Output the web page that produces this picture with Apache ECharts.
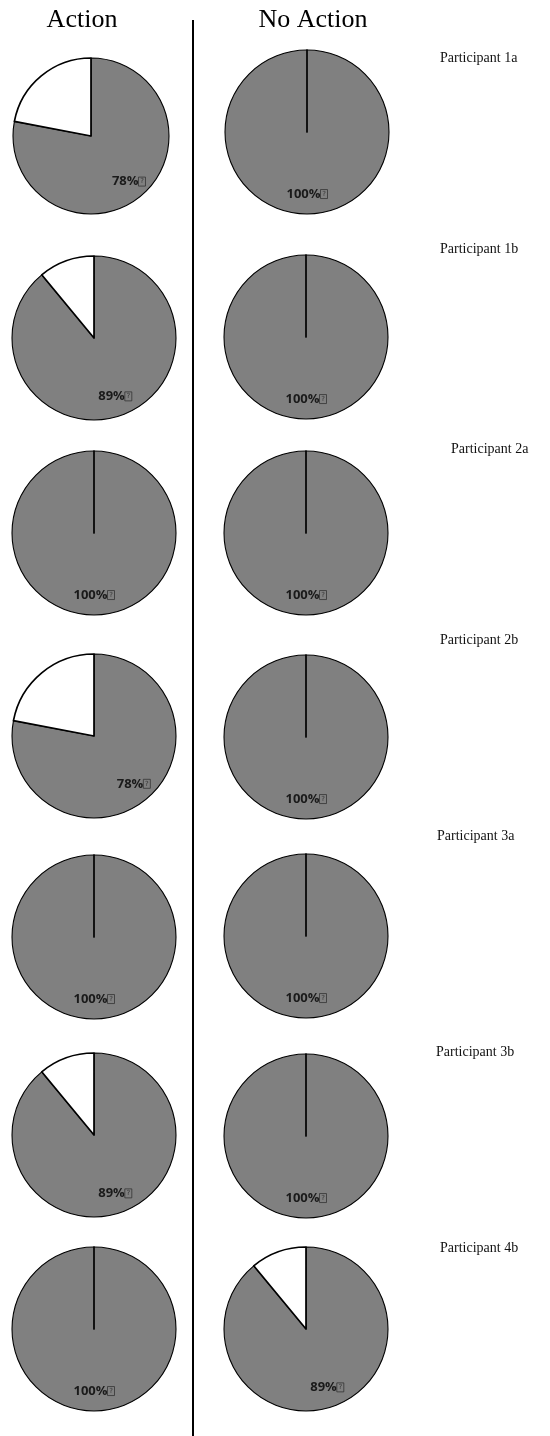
<!DOCTYPE html>
<html><head><meta charset="utf-8">
<script src="https://cdn.jsdelivr.net/npm/echarts@6/dist/echarts.min.js"></script>
<style>html,body{margin:0;padding:0;background:#fff}#c{width:550px;height:1436px}</style>
</head><body><div id="c"></div>
<script>
// ---- data ----
const participants = ['Participant 1a','Participant 1b','Participant 2a','Participant 2b','Participant 3a','Participant 3b','Participant 4b'];
const groups = ['Action', 'No Action'];
const actionPct    = [78, 89, 100, 78, 100, 89, 100];
const actionRest   = [22, 11, 0, 22, 0, 11, 0];
const noActionPct  = [100, 100, 100, 100, 100, 100, 89];
const noActionRest = [0, 0, 0, 0, 0, 0, 11];

// ---- layout (pixels) ----
const pieCenters = [
  [[91, 136], [307, 132]],
  [[94, 338], [306, 337]],
  [[94, 533], [306, 533]],
  [[94, 736], [306, 737]],
  [[94, 937], [306, 936]],
  [[94, 1135], [306, 1136]],
  [[94, 1329], [306, 1329]]
];
const pieRadii = [[78, 82], [82, 82], [82, 82], [82, 82], [82, 82], [82, 82], [82, 82]];
const titlePos = [[82, 20], [313, 20]];
const participantPos = [[440, 58], [440, 249], [451, 449], [440, 640], [437, 836], [436, 1052], [440, 1248]];

const GRAY = '#808080';
const series = [];
const values = [[actionPct, actionRest], [noActionPct, noActionRest]];
for (let r = 0; r < participants.length; r++) {
  for (let g = 0; g < 2; g++) {
    const pct = values[g][0][r], rest = values[g][1][r];
    const c = pieCenters[r][g], rad = pieRadii[r][g];
    series.push({
      type: 'pie', name: groups[g] + ' ' + participants[r],
      center: c, radius: rad, startAngle: 90, clockwise: true,
      silent: true, animation: false,
      label: { show: false }, labelLine: { show: false },
      itemStyle: { borderColor: '#000', borderWidth: 1.1 },
      data: [
        { name: 'yes', value: pct, itemStyle: { color: GRAY } },
        { name: 'no', value: rest, itemStyle: { color: '#ffffff', borderWidth: 1.7 } }
      ]
    });
    // label-only overlay to position label at ~0.72 r
    series.push({
      type: 'pie', center: c, radius: rad * 1.44, startAngle: 90, clockwise: true,
      silent: true, animation: false, z: 5,
      itemStyle: { color: 'transparent', borderWidth: 0 },
      labelLine: { show: false },
      label: {
        show: true, position: 'inside',
        formatter: '{c}%{g|?}',
        fontFamily: 'Open Sans', fontWeight: 'bold', fontSize: 13, color: '#1a1a1a',
        rich: { g: { fontFamily: 'DejaVu Sans', fontSize: 7, color: '#333', fontWeight: 'normal',
                     width: 7, height: 9, align: 'center', lineHeight: 9,
                     borderColor: '#333', borderWidth: 0.8 } }
      },
      data: [
        { name: 'yes', value: pct },
        { name: 'no', value: rest, label: { show: false } }
      ]
    });
  }
}

const graphic = [
  { type: 'line', shape: { x1: 193, y1: 20, x2: 193, y2: 1436 }, style: { stroke: '#000', lineWidth: 2 } }
];
groups.forEach((t, i) => {
  graphic.push({ type: 'text', x: titlePos[i][0], y: titlePos[i][1],
    style: { text: t, font: '26px "Liberation Serif"', fill: '#000', align: 'center', verticalAlign: 'middle' } });
});
participants.forEach((t, i) => {
  graphic.push({ type: 'text', x: participantPos[i][0], y: participantPos[i][1],
    style: { text: t, font: '14px "Liberation Serif"', fill: '#111', align: 'left', verticalAlign: 'middle' } });
});

const chart = echarts.init(document.getElementById('c'), null, { renderer: 'canvas' });
chart.setOption({ backgroundColor: '#fff', animation: false, series, graphic });
</script>
</body></html>
